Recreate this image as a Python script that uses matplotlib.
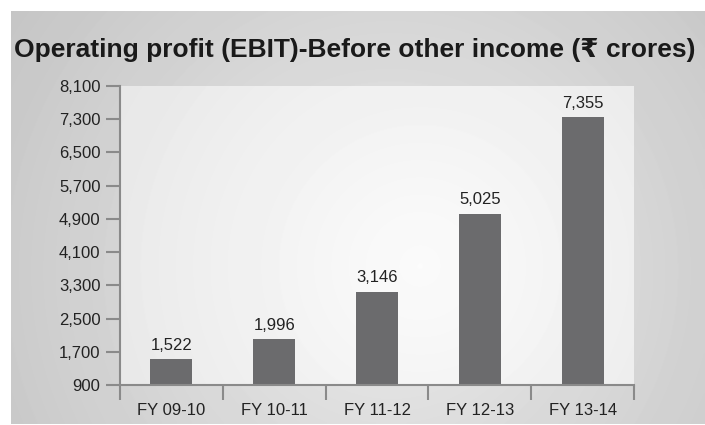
import matplotlib.pyplot as plt
import numpy as np

years = ["FY 09-10", "FY 10-11", "FY 11-12", "FY 12-13", "FY 13-14"]
ebit = [1522, 1996, 3146, 5025, 7355]
yticks = [900, 1700, 2500, 3300, 4100, 4900, 5700, 6500, 7300, 8100]

plt.rcParams['font.family'] = ['Liberation Sans', 'DejaVu Sans']

W, H = 705, 425
fig = plt.figure(figsize=(W / 100, H / 100), dpi=100)
fig.patch.set_facecolor("white")


def radial(nx, ny, cx, cy, c_in, c_out, scale):
    yy, xx = np.mgrid[0:ny, 0:nx]
    d = np.sqrt(((xx - cx) / scale) ** 2 + ((yy - cy) / scale) ** 2)
    d = np.clip(d, 0, 1)
    return c_in + (c_out - c_in) * d


# outer gray panel with soft radial light
bg = fig.add_axes([11 / W, 1 / H, 1 - 11 / W, 1 - 12 / H])
g = radial(694, 413, 380, 260, 0.92, 0.76, 500)
bg.imshow(g, cmap="gray", vmin=0, vmax=1, aspect="auto", interpolation="bilinear")
bg.axis("off")

ax = fig.add_axes([120 / W, 1 - 385 / H, (634 - 120) / W, (385 - 86) / H])
ax.set_zorder(2)
ax.patch.set_alpha(0)

# lighter gradient inside the plot area
inner = radial(514, 299, 300, 180, 0.985, 0.89, 420)
ax.imshow(inner, cmap="gray", vmin=0, vmax=1, aspect="auto",
          extent=(-0.5, 4.5, 900, 8100), interpolation="bilinear", zorder=0)

x = np.arange(len(years))
ax.bar(x, ebit, width=0.41, color="#6b6b6d", zorder=2)
for xi, v in zip(x, ebit):
    ax.text(xi, v + 150, f"{v:,}", ha="center", va="bottom", fontsize=12, color="#222222")

ax.set_xlim(-0.5, 4.5)
ax.set_ylim(900, 8100)
ax.set_yticks(yticks)
ax.set_yticklabels([f"{t:,}" for t in yticks])
ax.set_xticks(x)
ax.set_xticklabels(years)
ax.set_xticks(np.arange(-0.5, 5, 1), minor=True)
ax.tick_params(axis="x", which="major", length=0, labelsize=12, pad=13, colors="#222222")
ax.tick_params(axis="x", which="minor", length=11, width=1.5, color="#8a8a8a")
ax.tick_params(axis="y", length=10, width=1.5, color="#8a8a8a", labelsize=12,
               labelcolor="#222222", pad=4)
for s in ["top", "right"]:
    ax.spines[s].set_visible(False)
for s in ["left", "bottom"]:
    ax.spines[s].set_color("#8a8a8a")
    ax.spines[s].set_linewidth(1.5)
    ax.spines[s].set_zorder(3)

fig.text(355 / W, 1 - 50 / H, "Operating profit (EBIT)-Before other income (₹ crores)",
         ha="center", va="center", fontsize=19, fontweight="bold", color="#1a1a1a")

fig.savefig("out.png", dpi=100)
